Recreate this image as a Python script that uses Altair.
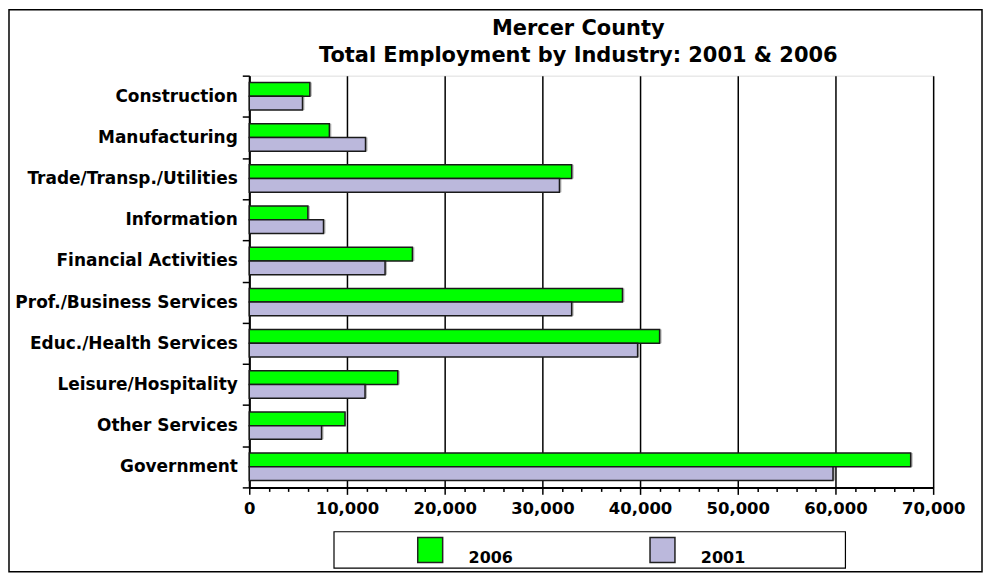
import altair as alt
import pandas as pd

# ---- data ----
industries = ["Construction", "Manufacturing", "Trade/Transp./Utilities", "Information",
              "Financial Activities", "Prof./Business Services", "Educ./Health Services",
              "Leisure/Hospitality", "Other Services", "Government"]
emp_2006 = [6200, 8200, 33000, 6000, 16700, 38200, 42000, 15200, 9800, 67700]
emp_2001 = [5450, 11900, 31750, 7600, 13900, 33000, 39750, 11850, 7400, 59750]
years = ["2006", "2001"]
year_colors = ["#00FF00", "#BBB8DC"]
x_ticks = [0, 2000, 4000, 6000, 8000, 10000, 12000, 14000, 16000, 18000, 20000,
           22000, 24000, 26000, 28000, 30000, 32000, 34000, 36000, 38000, 40000,
           42000, 44000, 46000, 48000, 50000, 52000, 54000, 56000, 58000, 60000,
           62000, 64000, 66000, 68000, 70000]
title_lines = ["Mercer County", "Total Employment by Industry: 2001 & 2006"]

rows = []
for ind, a, b in zip(industries, emp_2006, emp_2001):
    rows.append({"Industry": ind, "Year": years[0], "Employment": a})
    rows.append({"Industry": ind, "Year": years[1], "Employment": b})
df = pd.DataFrame(rows)

FONT = "DejaVu Sans"
major = "datum.value % 10000 === 0"

x_enc = alt.X(
    "Employment:Q",
    scale=alt.Scale(domain=[0, 70000], nice=False, zero=True),
    axis=alt.Axis(
        values=x_ticks, format=",d", title=None,
        labelExpr=f"{major} ? datum.label : ''",
        grid=True, gridColor="black", gridWidth=1.5,
        gridOpacity={"condition": {"test": major, "value": 1}, "value": 0},
        tickSize={"condition": {"test": major, "value": 7}, "value": 4},
        tickColor="black", tickWidth=1.5,
        domainColor="black", domainWidth=2,
        labelFlush=False, labelOverlap=False, labelPadding=6,
        labelFont=FONT, labelFontSize=16.5, labelFontWeight="bold", labelColor="black",
    ),
)
y_enc = alt.Y(
    "Industry:N", sort=industries,
    scale=alt.Scale(paddingInner=0, paddingOuter=0),
    axis=alt.Axis(
        title=None, tickBand="extent", tickSize=7, tickColor="black", tickWidth=1.5,
        domainColor="black", domainWidth=2, labelPadding=5, grid=False,
        labelFont=FONT, labelFontSize=17, labelFontWeight="bold", labelColor="black",
        labelLimit=400,
    ),
)
yoff = alt.YOffset("Year:N", sort=years, scale=alt.Scale(paddingOuter=0.5, paddingInner=0))

color = alt.Color(
    "Year:N", sort=years,
    scale=alt.Scale(domain=years, range=year_colors),
    legend=alt.Legend(
        title=None,
        orient="none", legendX=168, legendY=462,
        direction="horizontal", columns=2, columnPadding=134,
        symbolType="square", symbolSize=625, symbolStrokeColor="#222222",
        symbolStrokeWidth=1.5, symbolOpacity=1,
        labelOffset=25, labelFont=FONT, labelFontSize=16, labelFontWeight="bold",
        labelColor="black", labelBaseline="top", labelLimit=400,
        padding=0,
    ),
)

base = alt.Chart(df)
shadow = base.mark_bar(color="#b8b8b8", xOffset=2, x2Offset=2).encode(
    x=x_enc, y=y_enc, yOffset=yoff
)
bars = base.mark_bar(stroke="#1a1a1a", strokeWidth=1.5).encode(
    x=x_enc, y=y_enc, yOffset=yoff, color=color
)
# decorative boxes: outer chart frame and legend frame
outer_frame = alt.Chart(alt.Data(values=[{"k": 1}])).mark_rect(
    fill="transparent", stroke="black", strokeWidth=1.5
).encode(x=alt.value(-241), x2=alt.value(735), y=alt.value(-66), y2=alt.value(497.5))
legend_frame = alt.Chart(alt.Data(values=[{"k": 1}])).mark_rect(
    fill="transparent", stroke="black", strokeWidth=1.2
).encode(x=alt.value(85), x2=alt.value(598), y=alt.value(457.5), y2=alt.value(494))

chart = alt.layer(shadow, bars, outer_frame, legend_frame).properties(
    width=686, height=413,
    autosize=alt.AutoSizeParams(type="none"),
    padding={"left": 242, "top": 67, "right": 52, "bottom": 86},
    title=alt.TitleParams(
        text=title_lines, font=FONT, fontSize=21, fontWeight="bold", color="black",
        anchor="middle", dx=-13, offset=-57, lineHeight=27,
    ),
).configure_view(stroke="black", strokeWidth=1.5).configure(background="white")

chart.save("out.html", embed_options={"renderer": "svg", "actions": False})
